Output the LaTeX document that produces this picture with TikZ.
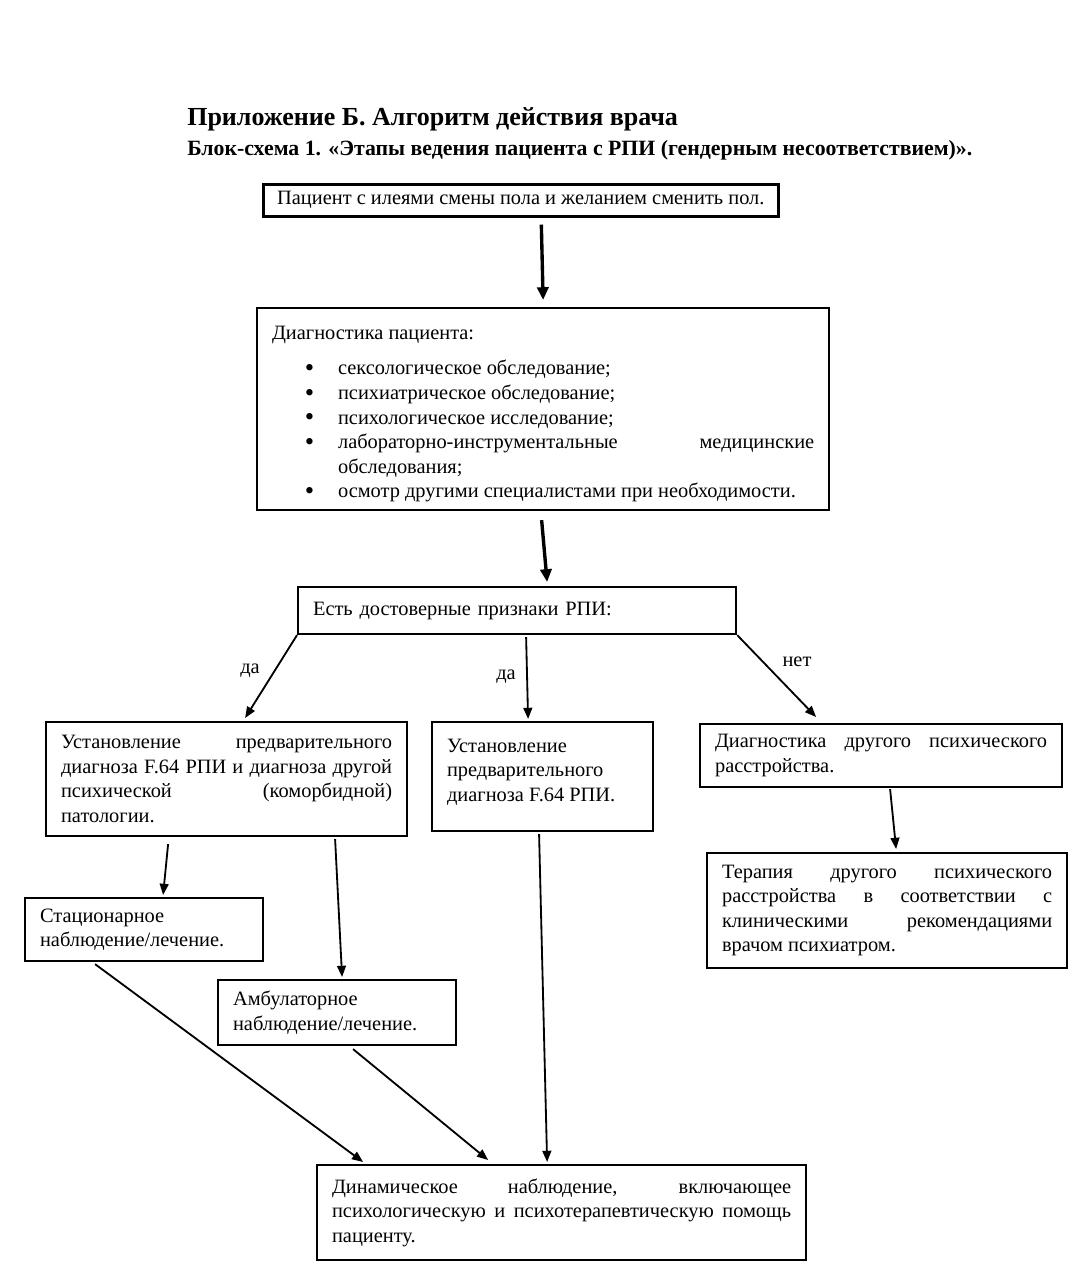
\documentclass[tikz,border=0pt]{standalone}
\usepackage{fontspec}
\setmainfont{Liberation Serif}
\usetikzlibrary{arrows.meta}

\hyphenpenalty=10000
\exhyphenpenalty=10000
\tolerance=10000
\hbadness=10000

% bullet line with hanging indent
\newcommand{\diagitem}[1]{\par\noindent\hangindent=1.65cm\hangafter=1\makebox[1.65cm][l]{\hspace{0.82cm}\raisebox{-1.3pt}{\fontsize{19pt}{17.5pt}\selectfont\textbullet}}#1}

\tikzset{
    box/.style={draw, line width=1.5pt, anchor=north west, align=justify, inner xsep=0.375cm, inner ysep=0pt, font=\fontsize{14.5pt}{17.5pt}\selectfont},
    arrow/.style={-{Triangle[length=0.28cm,width=0.22cm]}, line width=1.3pt},
    bigarrow/.style={-{Triangle[length=0.32cm,width=0.28cm]}, line width=2.4pt},
    answer/.style={inner sep=0pt, font=\fontsize{14.5pt}{17.5pt}\selectfont},
}

\begin{document}
\begin{tikzpicture}[x=0.025cm, y=-0.025cm]
    \fill[white] (0,0) rectangle (1077,1280);
    \useasboundingbox (0,0) rectangle (1077,1280);

    % headings
    \node[anchor=base west, inner sep=0pt, font=\bfseries\fontsize{18.5pt}{22pt}\selectfont] (title) at (187,126) {Приложение Б. Алгоритм действия врача};
    \node[anchor=base west, inner sep=0pt, font=\bfseries\fontsize{15.5pt}{18pt}\selectfont] (subtitle) at (187,156) {Блок-схема 1. «Этапы ведения пациента с РПИ (гендерным несоответствием)».};

    % boxes
    \node[box, align=center, inner xsep=0pt, minimum width=12.875cm, minimum height=0.8cm, line width=1.8pt] (patient) at (262,183) {Пациент с илеями смены пола и желанием сменить пол.};

    \node[box, text width=13.55cm, minimum height=5.05cm] (diag) at (256,307) {\rule{0pt}{17pt}Диагностика пациента:\par\vspace{7.5pt}
        \diagitem{сексологическое обследование;}
        \diagitem{психиатрическое обследование;}
        \diagitem{психологическое исследование;}
        \diagitem{лабораторно-инструментальные медицинские\linebreak обследования;}
        \diagitem{осмотр другими специалистами при необходимости.}};

    \node[box, align=left, text width=10.2cm, minimum height=1.175cm] (signs) at (297,586) {Есть достоверные признаки РПИ:};

    \node[box, text width=8.275cm, minimum height=2.85cm] (comorbid) at (45,721) {Установление предварительного\linebreak диагноза F.64 РПИ и диагноза другой\linebreak психической (коморбидной)\linebreak патологии.};
    \node[box, text width=4.775cm, minimum height=2.725cm] (prelim) at (431,721) {Установление\linebreak предварительного\linebreak диагноза F.64 РПИ.\rule[-0.33cm]{0pt}{1pt}};
    \node[box, text width=8.3cm, minimum height=1.575cm] (other) at (699,723) {Диагностика другого психического\linebreak расстройства.};
    \node[box, text width=8.25cm, minimum height=2.875cm] (therapy) at (706,852) {Терапия другого психического\linebreak расстройства в соответствии с\linebreak клиническими рекомендациями\linebreak врачом психиатром.};
    \node[box, text width=5.2cm, minimum height=1.575cm] (inpatient) at (24,897) {Стационарное\linebreak наблюдение/лечение.};
    \node[box, text width=5.2cm, minimum height=1.625cm] (outpatient) at (217,979) {Амбулаторное\linebreak наблюдение/лечение.};
    \node[box, text width=11.475cm, minimum height=2.375cm] (followup) at (316,1164) {Динамическое наблюдение, включающее\linebreak психологическую и психотерапевтическую помощь\linebreak пациенту.};

    % answers
    \node[answer] (yesleft) at (250,671) {да};
    \node[answer] (yesmid) at (506,677) {да};
    \node[answer] (no) at (797,662) {нет};

    % connectors
    \draw[bigarrow] ([shift={(20.5,7)}]patient.south) -- ([shift={(0,-7)}]diag.north);
    \draw[bigarrow] ([shift={(-1.5,9)}]diag.south) -- ([shift={(30,-4)}]signs.north);

    \draw[arrow] (signs.south west) -- ([shift={(18.5,-3)}]comorbid.north);
    \draw[arrow] ([shift={(9,2)}]signs.south) -- ([shift={(-14.5,-2)}]prelim.north);
    \draw[arrow] (signs.south east) -- ([shift={(-65,-6)}]other.north);
    \draw[arrow] ([shift={(9,1)}]other.south) -- ([shift={(9,-3)}]therapy.north);

    \draw[arrow] ([shift={(-58.5,7)}]comorbid.south) -- ([shift={(19,-2)}]inpatient.north);
    \draw[arrow] ([shift={(108.5,2)}]comorbid.south) -- ([shift={(5,-2)}]outpatient.north);

    \draw[arrow] ([shift={(-49,2)}]inpatient.south) -- ([shift={(-198.5,-2)}]followup.north);
    \draw[arrow] ([shift={(16,3)}]outpatient.south) -- ([shift={(-73.5,-4)}]followup.north);
    \draw[arrow] ([shift={(-3.5,2)}]prelim.south) -- ([shift={(-14.5,-2)}]followup.north);
\end{tikzpicture}
\end{document}
